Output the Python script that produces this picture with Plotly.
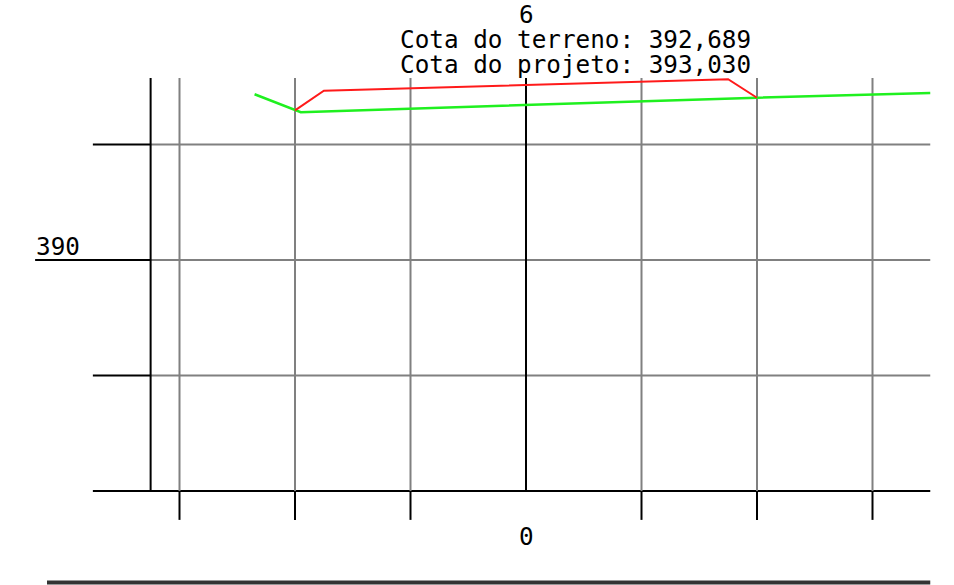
import plotly.graph_objects as go

# ---- data ----
station_label = "6"
terrain_label = "Cota do terreno: 392,689"
project_label = "Cota do projeto: 393,030"
offset_label = "0"
elev_label = "390"
elev_label_value = 390

terrain_x = [-4.7, -4.0, -3.9, 4.0, 7.0]
terrain_y = [392.87, 392.60, 392.56, 392.81, 392.89]

project_x = [-4.0, -3.5, 3.5, 4.0]
project_y = [392.59, 392.93, 393.13, 392.81]

grid_x = [-6, -4, -2, 2, 4, 6]          # grey verticals
center_x = 0                            # black centre line
frame_x = -6.5                          # black left frame line
grid_y = [392, 390, 388]                # grey horizontals
base_y = 386                            # black base line
top_y = 393.15
tick_bottom_y = 385.5
x_left_tick = -7.5
x_left_label_line = -8.5
x_right = 7.0

# ---- scale (1 unit = 57.75 px both ways) ----
W, H = 954, 585
S = 57.75
X0PX, Y390PX = 526, 260
xr = [(0 - X0PX) / S, (W - X0PX) / S]
yr = [390 - (H - Y390PX) / S, 390 + Y390PX / S]

GREY = "#808080"
BLACK = "#000000"

shapes = []
def seg(x0, y0, x1, y1, color, width):
    shapes.append(dict(type="line", xref="x", yref="y", x0=x0, y0=y0, x1=x1, y1=y1,
                       line=dict(color=color, width=width), layer="below"))

# grey grid horizontals
for gy in grid_y:
    seg(frame_x, gy, x_right, gy, GREY, 2)
    seg(x_left_tick if gy != elev_label_value else x_left_label_line, gy, frame_x, gy, BLACK, 2)
# base
seg(x_left_tick, base_y, x_right, base_y, BLACK, 2)
# grey verticals + ticks
for gx in grid_x:
    seg(gx, base_y, gx, top_y, GREY, 2)
    seg(gx, base_y, gx, tick_bottom_y, BLACK, 2)
seg(center_x, base_y, center_x, top_y, BLACK, 2)
seg(frame_x, base_y, frame_x, top_y, BLACK, 2)

# bottom cut-off line of next drawing
yb = yr[0] + 2.5 / S
shapes.append(dict(type="line", xref="x", yref="y", x0=(47 - X0PX) / S, x1=x_right,
                   y0=yb, y1=yb, line=dict(color="#333333", width=4)))

fig = go.Figure()
fig.add_trace(go.Scatter(x=terrain_x, y=terrain_y, mode="lines",
                         line=dict(color="#1ff01f", width=2.5), hoverinfo="skip"))
fig.add_trace(go.Scatter(x=project_x, y=project_y, mode="lines",
                         line=dict(color="#ff1a1a", width=2), hoverinfo="skip"))

FONT = "DejaVu Sans Mono"
def ann(text, xpx, ypx, anchor="center", size=24.3):
    return dict(text=text, xref="paper", yref="paper", x=xpx / W, y=1 - ypx / H,
                xanchor=anchor, yanchor="middle", showarrow=False,
                font=dict(family=FONT, size=size, color="#000000"))

annotations = [
    ann(station_label, 526, 14),
    ann(terrain_label, 398, 40, "left"),
    ann(project_label, 398, 64, "left"),
    ann(offset_label, 526, 536),
    ann(elev_label, 34, 246, "left"),
]

fig.update_layout(
    width=W, height=H, margin=dict(l=0, r=0, t=0, b=0),
    paper_bgcolor="white", plot_bgcolor="white", showlegend=False,
    xaxis=dict(range=xr, visible=False, fixedrange=True),
    yaxis=dict(range=yr, visible=False, fixedrange=True),
    shapes=shapes, annotations=annotations,
)
fig.write_html("out.html", config={"displayModeBar": False},
               post_script="document.body.style.margin='0';document.body.style.overflow='hidden';")
